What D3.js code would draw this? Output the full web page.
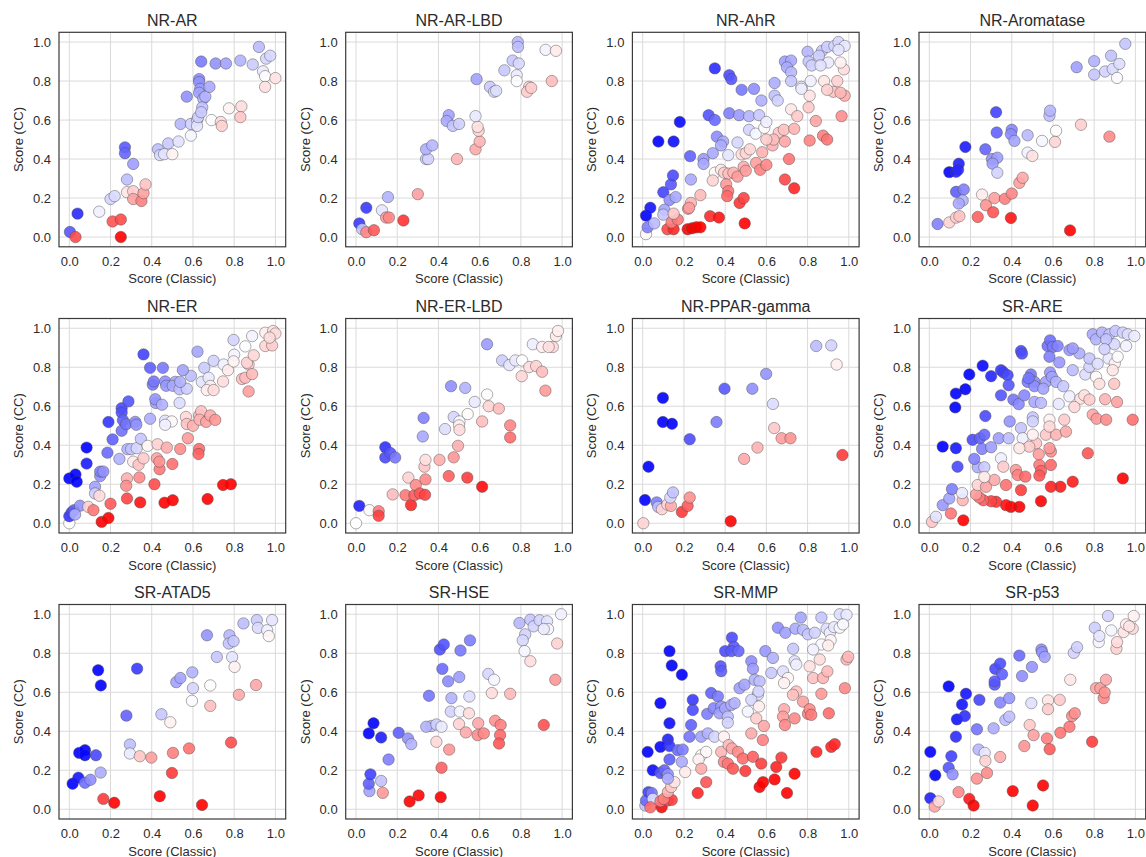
<!DOCTYPE html>
<html>
<head>
<meta charset="utf-8">
<script src="https://cdn.jsdelivr.net/npm/d3@7"></script>
<style>
  body { margin: 0; background: #fff; }
  svg { display: block; }
</style>
</head>
<body>
<svg id="chart" width="1146" height="857"></svg>
<script>
// Per-assay scores: [Score (Classic), Score (CC)]
const titles = ["NR-AR", "NR-AR-LBD", "NR-AhR", "NR-Aromatase",
                "NR-ER", "NR-ER-LBD", "NR-PPAR-gamma", "SR-ARE",
                "SR-ATAD5", "SR-HSE", "SR-MMP", "SR-p53"];

const nrAr = [[0.04,0.12],[0.003,0.026],[0.03,0.0],[0.25,0.0],[0.21,0.08],[0.25,0.09],[0.145,0.13],[0.2,0.195],[0.22,0.21],[0.28,0.23],[0.28,0.295],[0.31,0.235],[0.31,0.195],[0.35,0.185],[0.36,0.225],[0.37,0.27],[0.27,0.46],[0.27,0.43],[0.31,0.375],[0.43,0.45],[0.44,0.42],[0.46,0.425],[0.48,0.48],[0.5,0.425],[0.53,0.49],[0.54,0.58],[0.59,0.52],[0.59,0.58],[0.62,0.6],[0.62,0.57],[0.625,0.615],[0.57,0.72],[0.63,0.81],[0.63,0.795],[0.635,0.76],[0.63,0.74],[0.65,0.71],[0.645,0.665],[0.64,0.64],[0.66,0.72],[0.68,0.77],[0.64,0.9],[0.71,0.89],[0.76,0.89],[0.83,0.905],[0.89,0.885],[0.92,0.975],[0.955,0.915],[0.975,0.93],[0.94,0.85],[0.95,0.825],[1.0,0.815],[0.95,0.77],[0.69,0.6],[0.735,0.59],[0.74,0.57],[0.775,0.66],[0.835,0.67],[0.83,0.615]];

const nrArLbd = [[0.05,0.15],[0.016,0.07],[0.03,0.04],[0.05,0.025],[0.087,0.035],[0.23,0.085],[0.126,0.137],[0.146,0.1],[0.16,0.1],[0.155,0.205],[0.3,0.22],[0.34,0.4],[0.35,0.4],[0.34,0.45],[0.37,0.47],[0.45,0.625],[0.44,0.595],[0.47,0.57],[0.5,0.58],[0.49,0.4],[0.58,0.45],[0.6,0.49],[0.595,0.545],[0.59,0.565],[0.58,0.62],[0.585,0.81],[0.65,0.77],[0.67,0.745],[0.68,0.75],[0.72,0.855],[0.76,0.905],[0.785,1.0],[0.786,0.975],[0.79,0.89],[0.78,0.83],[0.78,0.8],[0.84,0.77],[0.83,0.745],[0.85,0.765],[0.92,0.96],[0.97,0.955],[0.95,0.8]];

const nrAhr = [[0.016,0.015],[0.024,0.05],[0.016,0.11],[0.037,0.15],[0.056,0.07],[0.076,0.49],[0.15,0.49],[0.18,0.59],[0.1,0.23],[0.137,0.27],[0.147,0.316],[0.13,0.19],[0.16,0.205],[0.105,0.14],[0.1,0.115],[0.12,0.04],[0.15,0.04],[0.14,0.075],[0.17,0.09],[0.15,0.12],[0.218,0.04],[0.24,0.045],[0.26,0.05],[0.28,0.05],[0.22,0.145],[0.234,0.175],[0.28,0.215],[0.225,0.15],[0.327,0.107],[0.37,0.1],[0.35,0.865],[0.42,0.83],[0.43,0.81],[0.48,0.755],[0.54,0.76],[0.576,0.7],[0.64,0.79],[0.32,0.625],[0.35,0.6],[0.36,0.515],[0.39,0.49],[0.38,0.47],[0.34,0.43],[0.23,0.415],[0.295,0.4],[0.295,0.375],[0.234,0.295],[0.35,0.33],[0.34,0.29],[0.42,0.635],[0.468,0.625],[0.516,0.62],[0.565,0.625],[0.516,0.55],[0.548,0.53],[0.59,0.56],[0.6,0.59],[0.46,0.485],[0.415,0.42],[0.48,0.424],[0.5,0.43],[0.52,0.45],[0.38,0.345],[0.395,0.33],[0.416,0.325],[0.44,0.33],[0.46,0.31],[0.49,0.36],[0.5,0.34],[0.55,0.38],[0.57,0.345],[0.6,0.37],[0.58,0.435],[0.63,0.47],[0.66,0.535],[0.685,0.55],[0.635,0.5],[0.6,0.5],[0.405,0.27],[0.415,0.235],[0.41,0.21],[0.47,0.175],[0.49,0.2],[0.495,0.07],[0.69,0.49],[0.71,0.4],[0.69,0.295],[0.735,0.25],[0.735,0.555],[0.72,0.655],[0.75,0.62],[0.77,0.77],[0.815,0.8],[0.81,0.725],[0.805,0.665],[0.84,0.595],[0.81,0.495],[0.875,0.52],[0.895,0.5],[0.965,0.62],[0.98,0.725],[0.925,0.745],[0.96,0.74],[0.88,0.8],[0.895,0.755],[0.944,0.8],[0.976,0.86],[0.96,0.895],[0.9,0.895],[0.87,0.955],[0.895,0.975],[0.93,0.98],[0.95,1.0],[0.98,0.98],[0.95,0.96],[0.855,0.93],[0.8,0.95],[0.805,0.9],[0.82,0.88],[0.863,0.88],[0.69,0.9],[0.72,0.905],[0.7,0.87],[0.72,0.845],[0.72,0.8],[0.77,0.76],[0.64,0.725],[0.655,0.7]];

const nrAromatase = [[0.04,0.067],[0.097,0.075],[0.13,0.1],[0.146,0.107],[0.097,0.333],[0.13,0.335],[0.143,0.376],[0.14,0.345],[0.175,0.462],[0.13,0.232],[0.167,0.244],[0.162,0.187],[0.143,0.172],[0.324,0.64],[0.327,0.536],[0.272,0.45],[0.304,0.4],[0.33,0.407],[0.307,0.376],[0.33,0.33],[0.4,0.55],[0.396,0.527],[0.413,0.493],[0.477,0.522],[0.477,0.433],[0.5,0.416],[0.547,0.493],[0.583,0.622],[0.586,0.648],[0.615,0.545],[0.61,0.488],[0.736,0.576],[0.874,0.515],[0.715,0.871],[0.8,0.902],[0.8,0.833],[0.853,0.849],[0.882,0.93],[0.89,0.862],[0.922,0.888],[0.911,0.816],[0.951,0.991],[0.256,0.218],[0.275,0.163],[0.235,0.103],[0.31,0.127],[0.316,0.2],[0.367,0.196],[0.4,0.223],[0.437,0.278],[0.453,0.304],[0.396,0.098],[0.683,0.034]];

const nrEr = [[0.0,0.0],[0.0,0.23],[0.03,0.25],[0.036,0.213],[0.0,0.036],[0.011,0.055],[0.023,0.067],[0.052,0.09],[0.028,0.045],[0.084,0.388],[0.084,0.306],[0.092,0.084],[0.117,0.067],[0.125,0.187],[0.125,0.153],[0.146,0.141],[0.15,0.242],[0.15,0.265],[0.165,0.265],[0.157,0.007],[0.19,0.027],[0.2,0.1],[0.185,0.362],[0.21,0.43],[0.19,0.519],[0.243,0.33],[0.254,0.474],[0.254,0.59],[0.254,0.568],[0.26,0.528],[0.287,0.625],[0.276,0.508],[0.282,0.38],[0.28,0.23],[0.276,0.192],[0.28,0.127],[0.3,0.38],[0.327,0.385],[0.31,0.316],[0.336,0.3],[0.34,0.235],[0.344,0.107],[0.32,0.52],[0.325,0.505],[0.347,0.433],[0.36,0.333],[0.36,0.866],[0.392,0.797],[0.405,0.711],[0.41,0.727],[0.454,0.797],[0.42,0.617],[0.417,0.636],[0.392,0.536],[0.45,0.608],[0.465,0.727],[0.47,0.705],[0.514,0.725],[0.502,0.705],[0.535,0.687],[0.57,0.69],[0.535,0.617],[0.538,0.725],[0.38,0.397],[0.428,0.405],[0.465,0.526],[0.497,0.522],[0.465,0.505],[0.425,0.333],[0.438,0.277],[0.413,0.2],[0.437,0.316],[0.473,0.388],[0.5,0.304],[0.538,0.381],[0.462,0.105],[0.502,0.118],[0.671,0.124],[0.746,0.196],[0.784,0.2],[0.566,0.545],[0.57,0.509],[0.575,0.436],[0.6,0.5],[0.63,0.553],[0.64,0.574],[0.632,0.531],[0.664,0.52],[0.684,0.553],[0.708,0.53],[0.63,0.381],[0.627,0.355],[0.59,0.756],[0.551,0.785],[0.622,0.88],[0.655,0.797],[0.643,0.725],[0.676,0.746],[0.684,0.704],[0.667,0.683],[0.7,0.683],[0.7,0.833],[0.749,0.814],[0.746,0.727],[0.77,0.785],[0.797,0.94],[0.8,0.864],[0.797,0.83],[0.854,0.907],[0.87,0.814],[0.862,0.823],[0.838,0.74],[0.854,0.746],[0.887,0.765],[0.87,0.676],[0.895,0.861],[0.887,0.96],[0.951,0.977],[0.989,0.986],[1.0,0.973],[0.951,0.909],[0.984,0.912],[0.972,0.952]];

const nrErLbd = [[0.0,0.0],[0.016,0.089],[0.065,0.067],[0.11,0.062],[0.11,0.038],[0.178,0.148],[0.142,0.39],[0.142,0.337],[0.167,0.36],[0.19,0.337],[0.254,0.234],[0.24,0.144],[0.267,0.093],[0.283,0.144],[0.29,0.196],[0.31,0.153],[0.335,0.146],[0.337,0.225],[0.332,0.29],[0.337,0.325],[0.405,0.325],[0.45,0.242],[0.54,0.234],[0.612,0.187],[0.324,0.445],[0.328,0.54],[0.432,0.483],[0.461,0.703],[0.53,0.694],[0.474,0.545],[0.502,0.522],[0.5,0.502],[0.502,0.479],[0.495,0.397],[0.474,0.338],[0.542,0.56],[0.576,0.622],[0.612,0.522],[0.636,0.66],[0.644,0.6],[0.693,0.588],[0.748,0.502],[0.748,0.44],[0.636,0.918],[0.709,0.835],[0.744,0.811],[0.773,0.835],[0.806,0.835],[0.804,0.754],[0.841,0.801],[0.874,0.806],[0.903,0.777],[0.919,0.68],[0.858,0.918],[0.903,0.904],[0.955,0.904],[0.97,0.96],[0.98,0.986],[0.935,0.904]];

const nrPparGamma = [[0.003,0.0],[0.011,0.119],[0.028,0.29],[0.068,0.107],[0.075,0.084],[0.098,0.643],[0.098,0.519],[0.142,0.51],[0.228,0.431],[0.093,0.072],[0.12,0.096],[0.137,0.089],[0.134,0.132],[0.147,0.158],[0.19,0.058],[0.218,0.089],[0.228,0.132],[0.358,0.519],[0.397,0.69],[0.427,0.01],[0.492,0.33],[0.557,0.388],[0.532,0.69],[0.599,0.766],[0.632,0.612],[0.638,0.488],[0.674,0.436],[0.717,0.436],[0.842,0.909],[0.915,0.912],[0.941,0.814],[0.969,0.35]];

const srAre = [[0.013,0.007],[0.032,0.033],[0.065,0.093],[0.097,0.127],[0.11,0.175],[0.105,0.05],[0.165,0.015],[0.162,0.118],[0.159,0.155],[0.065,0.393],[0.129,0.385],[0.137,0.29],[0.126,0.594],[0.129,0.665],[0.175,0.687],[0.194,0.763],[0.259,0.808],[0.3,0.754],[0.348,0.785],[0.36,0.773],[0.38,0.759],[0.385,0.708],[0.348,0.656],[0.272,0.55],[0.445,0.883],[0.45,0.87],[0.21,0.428],[0.246,0.436],[0.267,0.454],[0.256,0.381],[0.3,0.39],[0.337,0.436],[0.385,0.436],[0.39,0.522],[0.408,0.634],[0.434,0.611],[0.461,0.656],[0.477,0.725],[0.493,0.763],[0.51,0.725],[0.51,0.703],[0.482,0.744],[0.445,0.488],[0.453,0.436],[0.502,0.543],[0.502,0.522],[0.51,0.622],[0.542,0.617],[0.566,0.725],[0.553,0.69],[0.586,0.773],[0.595,0.751],[0.615,0.725],[0.574,0.909],[0.586,0.938],[0.599,0.904],[0.583,0.854],[0.631,0.825],[0.623,0.909],[0.68,0.888],[0.728,0.871],[0.696,0.897],[0.65,0.703],[0.628,0.612],[0.696,0.785],[0.757,0.763],[0.777,0.802],[0.777,0.845],[0.809,0.751],[0.825,0.715],[0.817,0.818],[0.87,0.845],[0.9,0.82],[0.89,0.785],[0.897,0.715],[0.793,0.969],[0.809,0.943],[0.838,0.978],[0.874,0.969],[0.903,0.986],[0.939,0.978],[0.963,0.969],[0.995,0.96],[0.898,0.918],[0.858,0.943],[0.955,0.909],[0.914,0.854],[0.85,0.893],[0.68,0.651],[0.733,0.639],[0.704,0.596],[0.752,0.656],[0.777,0.634],[0.793,0.557],[0.812,0.536],[0.858,0.531],[0.853,0.636],[0.911,0.622],[0.987,0.531],[0.939,0.23],[0.769,0.359],[0.696,0.213],[0.636,0.187],[0.59,0.187],[0.542,0.113],[0.445,0.17],[0.437,0.084],[0.396,0.084],[0.372,0.093],[0.324,0.11],[0.3,0.113],[0.262,0.118],[0.243,0.132],[0.227,0.148],[0.235,0.196],[0.275,0.187],[0.316,0.222],[0.372,0.196],[0.42,0.273],[0.429,0.247],[0.466,0.239],[0.534,0.299],[0.542,0.268],[0.534,0.244],[0.59,0.299],[0.59,0.368],[0.583,0.385],[0.531,0.354],[0.518,0.41],[0.502,0.454],[0.566,0.454],[0.615,0.454],[0.663,0.47],[0.655,0.531],[0.583,0.531],[0.583,0.496],[0.485,0.393],[0.437,0.385],[0.348,0.333],[0.235,0.287],[0.267,0.287],[0.267,0.237],[0.359,0.29],[0.218,0.33]];

const srAtad5 = [[0.016,0.131],[0.044,0.162],[0.048,0.289],[0.076,0.303],[0.076,0.277],[0.129,0.277],[0.076,0.136],[0.103,0.151],[0.152,0.188],[0.14,0.713],[0.153,0.635],[0.165,0.053],[0.218,0.033],[0.329,0.721],[0.277,0.48],[0.294,0.332],[0.294,0.286],[0.342,0.272],[0.398,0.265],[0.439,0.067],[0.447,0.487],[0.49,0.446],[0.503,0.289],[0.498,0.186],[0.581,0.312],[0.644,0.022],[0.519,0.652],[0.539,0.673],[0.597,0.702],[0.6,0.621],[0.595,0.556],[0.684,0.635],[0.684,0.53],[0.668,0.892],[0.716,0.781],[0.777,0.892],[0.774,0.85],[0.797,0.862],[0.79,0.78],[0.802,0.73],[0.823,0.587],[0.785,0.342],[0.845,0.953],[0.91,0.97],[0.915,0.93],[0.96,0.918],[0.968,0.888],[0.984,0.97],[0.906,0.637]];

const srHse = [[0.065,0.093],[0.062,0.131],[0.07,0.179],[0.122,0.145],[0.13,0.084],[0.062,0.389],[0.085,0.441],[0.122,0.368],[0.158,0.255],[0.207,0.392],[0.252,0.363],[0.268,0.334],[0.26,0.04],[0.304,0.071],[0.411,0.062],[0.415,0.213],[0.452,0.306],[0.39,0.346],[0.354,0.582],[0.366,0.427],[0.341,0.423],[0.39,0.435],[0.415,0.423],[0.407,0.819],[0.426,0.845],[0.419,0.72],[0.447,0.656],[0.507,0.814],[0.553,0.866],[0.501,0.678],[0.463,0.57],[0.46,0.501],[0.504,0.501],[0.548,0.492],[0.55,0.578],[0.5,0.437],[0.533,0.394],[0.593,0.441],[0.59,0.38],[0.62,0.389],[0.642,0.694],[0.67,0.664],[0.659,0.596],[0.748,0.592],[0.675,0.454],[0.702,0.432],[0.699,0.38],[0.694,0.337],[0.911,0.432],[0.793,0.955],[0.846,0.972],[0.862,0.938],[0.891,0.969],[0.927,0.964],[0.932,0.924],[0.911,0.924],[0.995,1.0],[0.821,0.897],[0.809,0.866],[0.818,0.811],[0.846,0.759],[0.976,0.85],[0.967,0.664]];

const srMmp = [[0.013,0.019],[0.016,0.045],[0.028,0.088],[0.044,0.083],[0.049,0.053],[0.037,0.01],[0.092,0.01],[0.086,0.041],[0.122,0.045],[0.141,0.048],[0.102,0.053],[0.122,0.088],[0.138,0.114],[0.154,0.139],[0.024,0.294],[0.049,0.2],[0.086,0.544],[0.13,0.811],[0.141,0.737],[0.19,0.69],[0.13,0.441],[0.122,0.358],[0.086,0.32],[0.13,0.324],[0.13,0.255],[0.086,0.186],[0.105,0.2],[0.122,0.179],[0.122,0.157],[0.17,0.303],[0.194,0.306],[0.19,0.243],[0.206,0.191],[0.235,0.432],[0.227,0.372],[0.243,0.561],[0.243,0.509],[0.284,0.372],[0.284,0.277],[0.308,0.294],[0.316,0.389],[0.271,0.255],[0.284,0.208],[0.308,0.139],[0.267,0.083],[0.313,0.489],[0.332,0.596],[0.345,0.518],[0.365,0.578],[0.381,0.527],[0.373,0.492],[0.4,0.518],[0.43,0.535],[0.446,0.544],[0.413,0.475],[0.413,0.444],[0.348,0.372],[0.394,0.372],[0.381,0.294],[0.394,0.243],[0.413,0.234],[0.438,0.208],[0.417,0.329],[0.433,0.312],[0.462,0.294],[0.486,0.26],[0.498,0.196],[0.535,0.269],[0.575,0.234],[0.567,0.114],[0.584,0.139],[0.64,0.153],[0.648,0.217],[0.673,0.265],[0.7,0.083],[0.737,0.182],[0.843,0.294],[0.915,0.32],[0.932,0.334],[0.378,0.733],[0.381,0.708],[0.4,0.811],[0.433,0.88],[0.442,0.833],[0.43,0.811],[0.465,0.811],[0.47,0.621],[0.494,0.639],[0.527,0.759],[0.535,0.72],[0.543,0.664],[0.567,0.656],[0.559,0.587],[0.562,0.604],[0.527,0.561],[0.51,0.501],[0.551,0.466],[0.564,0.527],[0.588,0.427],[0.583,0.355],[0.527,0.389],[0.595,0.811],[0.632,0.776],[0.624,0.699],[0.656,0.931],[0.692,0.905],[0.741,0.926],[0.767,0.983],[0.778,0.92],[0.802,0.897],[0.835,0.905],[0.867,0.983],[0.892,0.926],[0.908,0.905],[0.929,0.934],[0.956,1.0],[0.989,0.997],[0.956,0.931],[0.972,0.948],[0.912,0.867],[0.867,0.845],[0.827,0.819],[0.73,0.823],[0.681,0.707],[0.705,0.673],[0.686,0.647],[0.737,0.759],[0.745,0.742],[0.778,0.552],[0.745,0.604],[0.729,0.587],[0.686,0.513],[0.681,0.475],[0.69,0.432],[0.737,0.466],[0.802,0.489],[0.81,0.513],[0.818,0.484],[0.867,0.592],[0.827,0.673],[0.81,0.733],[0.859,0.768],[0.875,0.673],[0.896,0.707],[0.903,0.492],[0.981,0.621],[0.989,0.768],[0.997,0.782],[0.9,0.84]];

const srP53 = [[0.005,0.294],[0.005,0.057],[0.029,0.174],[0.026,0.014],[0.045,0.04],[0.094,0.63],[0.107,0.272],[0.094,0.213],[0.113,0.179],[0.142,0.088],[0.194,0.053],[0.215,0.019],[0.129,0.372],[0.134,0.461],[0.172,0.478],[0.159,0.537],[0.178,0.592],[0.243,0.561],[0.231,0.41],[0.239,0.306],[0.269,0.289],[0.272,0.248],[0.28,0.186],[0.231,0.157],[0.344,0.268],[0.312,0.415],[0.317,0.639],[0.32,0.72],[0.344,0.747],[0.353,0.692],[0.317,0.656],[0.344,0.547],[0.388,0.57],[0.369,0.458],[0.388,0.475],[0.437,0.788],[0.45,0.683],[0.498,0.73],[0.544,0.819],[0.547,0.805],[0.56,0.781],[0.495,0.544],[0.487,0.432],[0.506,0.38],[0.461,0.324],[0.405,0.093],[0.502,0.019],[0.552,0.122],[0.576,0.558],[0.576,0.513],[0.571,0.363],[0.584,0.308],[0.633,0.561],[0.636,0.392],[0.684,0.664],[0.68,0.423],[0.693,0.478],[0.706,0.492],[0.701,0.802],[0.717,0.831],[0.79,0.346],[0.809,0.621],[0.83,0.621],[0.846,0.57],[0.857,0.664],[0.851,0.599],[0.803,0.931],[0.822,0.857],[0.825,0.888],[0.867,0.991],[0.883,0.917],[0.908,0.823],[0.911,0.857],[0.943,0.909],[0.955,0.948],[0.987,0.926],[0.992,0.991],[0.97,0.938]];

const panelData = [nrAr, nrArLbd, nrAhr, nrAromatase, nrEr, nrErLbd, nrPparGamma, srAre, srAtad5, srHse, srMmp, srP53];
const tickValues = [0, 0.2, 0.4, 0.6, 0.8, 1.0];
const xLabel = "Score (Classic)";
const yLabel = "Score (CC)";

// Per-panel shift of the neutral (white) point of the colour map
const colorCentre = [0.12, -0.02, 0.04, 0.1, -0.05, -0.03, 0.1, 0.06, 0.06, 0.02, 0.03, -0.02];

// Layout of the 3x4 grid of axes
const FONT = "'Liberation Sans', Arial, Helvetica, sans-serif";
const TEXT = "#2b2b2b";
const colLeft = [59, 345.7, 632.4, 919];
const rowTop = [32.3, 318.5, 604.5];
const W = 226.7, H = 214.5;

const svg = d3.select("#chart");

// Diverging blue-white-red map; positive = CC higher than Classic
const toBlue = d3.interpolateRgb("#ffffff", "#0000ff");
const toRed = d3.interpolateRgb("#ffffff", "#ff0000");
function bwr(t) { return t >= 0 ? toBlue(t) : toRed(-t); }
function shift(d, c) {
  const s = d[0] + d[1];
  const r = (d[1] - d[0] + c * s / 1.7) / (s + 0.05);
  const t = Math.min(1, Math.abs(r) / 0.55);
  return Math.sign(r) * Math.pow(t, 0.75);
}

panelData.forEach((data, i) => {
  const g = svg.append("g")
    .attr("transform", `translate(${colLeft[i % 4]},${rowTop[Math.floor(i / 4)]})`);

  const x = d3.scaleLinear().domain([-0.05, 1.05]).range([0, W]);
  const y = d3.scaleLinear().domain([-0.05, 1.05]).range([H, 0]);

  // grid
  const grid = g.append("g").attr("stroke", "#dadada").attr("stroke-width", 1);
  grid.selectAll("line.v").data(tickValues).join("line").attr("class", "v")
    .attr("x1", d => x(d)).attr("x2", d => x(d)).attr("y1", 0).attr("y2", H);
  grid.selectAll("line.h").data(tickValues).join("line").attr("class", "h")
    .attr("y1", d => y(d)).attr("y2", d => y(d)).attr("x1", 0).attr("x2", W);

  // axes
  const xa = g.append("g").attr("transform", `translate(0,${H})`)
    .call(d3.axisBottom(x).tickValues(tickValues).tickFormat(d3.format(".1f")).tickSize(0).tickPadding(10));
  const ya = g.append("g")
    .call(d3.axisLeft(y).tickValues(tickValues).tickFormat(d3.format(".1f")).tickSize(0).tickPadding(8));
  [xa, ya].forEach(a => {
    a.select(".domain").remove();
    a.attr("font-family", FONT).attr("font-size", 13).attr("color", TEXT);
  });

  // points
  g.append("g").selectAll("circle").data(data).join("circle")
    .attr("cx", d => x(d[0]))
    .attr("cy", d => y(d[1]))
    .attr("r", 5.7)
    .attr("fill", d => bwr(shift(d, colorCentre[i])))
    .attr("fill-opacity", 0.9)
    .attr("stroke", "#4a4a4a")
    .attr("stroke-opacity", 0.75)
    .attr("stroke-width", 0.6);

  // frame
  g.append("rect").attr("width", W).attr("height", H)
    .attr("fill", "none").attr("stroke", "#3a3a3a").attr("stroke-width", 1.2);

  // title and axis labels
  g.append("text").attr("x", W / 2).attr("y", -6.5)
    .attr("text-anchor", "middle").attr("font-family", FONT).attr("font-size", 16)
    .attr("fill", TEXT).text(titles[i]);
  g.append("text").attr("x", W / 2).attr("y", H + 36.5)
    .attr("text-anchor", "middle").attr("font-family", FONT).attr("font-size", 13)
    .attr("fill", TEXT).text(xLabel);
  g.append("text").attr("transform", `translate(-36,${H / 2}) rotate(-90)`)
    .attr("text-anchor", "middle").attr("font-family", FONT).attr("font-size", 13)
    .attr("fill", TEXT).text(yLabel);
});
</script>
</body>
</html>
